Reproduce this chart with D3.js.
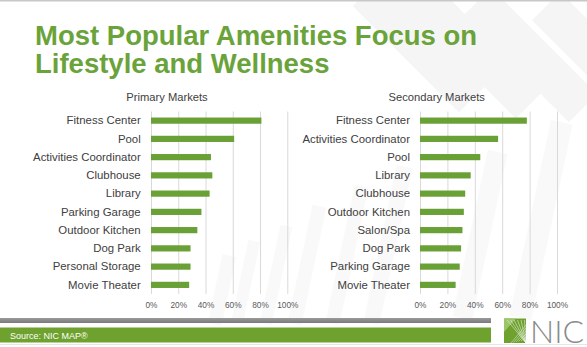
<!DOCTYPE html>
<html><head><meta charset="utf-8">
<script src="https://cdn.jsdelivr.net/npm/d3@7"></script>
<style>
html,body{margin:0;padding:0;background:#fff;}
svg{display:block;font-family:"Liberation Sans",Arial,sans-serif;}
</style></head>
<body><svg id="c" width="587" height="347"></svg>
<script>
const titleLines = ["Most Popular Amenities Focus on", "Lifestyle and Wellness"];
const primaryTitle = "Primary Markets";
const primaryCategories = ["Fitness Center","Pool","Activities Coordinator","Clubhouse","Library","Parking Garage","Outdoor Kitchen","Dog Park","Personal Storage","Movie Theater"];
const primaryValues = [81, 61, 44, 45, 43, 37, 34, 29, 29, 28];
const secondaryTitle = "Secondary Markets";
const secondaryCategories = ["Fitness Center","Activities Coordinator","Pool","Library","Clubhouse","Outdoor Kitchen","Salon/Spa","Dog Park","Parking Garage","Movie Theater"];
const secondaryValues = [78, 57, 44, 37, 33, 32, 31, 30, 29, 26];
const tickValues = [0, 20, 40, 60, 80, 100];
const sourceText = "Source: NIC MAP®";
const logoText = "NIC";

const svg = d3.select("#c");
const W = 587, H = 347;
const barColor = "#6aa136", titleColor = "#6aa33a", textColor = "#404040";

// background watermark stripes
const bg = svg.append("g").attr("fill", "#f5f5f5");
[[400,-30,40,150],[450,-40,38,170],[510,-20,40,150],[565,-10,40,110]].forEach(r=>{
  bg.append("rect").attr("x",r[0]).attr("y",r[1]).attr("width",r[2]).attr("height",r[3])
    .attr("transform",`rotate(-45 ${r[0]+r[2]/2} ${r[1]+r[3]/2})`);
});
[[215,255,14,70],[240,240,12,80],[270,225,12,100],[300,205,14,120],[340,185,14,140],[380,165,16,160],[470,150,20,170],[530,120,22,200]].forEach(r=>{
  bg.append("rect").attr("x",r[0]).attr("y",r[1]).attr("width",r[2]).attr("height",r[3])
    .attr("transform",`rotate(12 ${r[0]+r[2]/2} ${r[1]+r[3]/2})`).attr("opacity",0.6);
});

// top line
svg.append("rect").attr("x",0).attr("y",0).attr("width",W).attr("height",1.5).attr("fill","#c8c8c8");

// title
titleLines.forEach((l,i)=>{
  svg.append("text").attr("fill", titleColor).attr("font-weight","bold").attr("font-size",27.5)
    .attr("x",35).attr("y",45 + i*27.5).text(l);
});

function panel(cats, vals, title, x0, x1, labelGap, titleX) {
  const g = svg.append("g");
  const x = d3.scaleLinear().domain([0,100]).range([x0, x1]);
  const y = d3.scaleBand().domain(cats).range([111.5, 294]).paddingInner(0.66).paddingOuter(0.33);
  g.append("g").attr("transform",`translate(0,111.5)`)
    .call(d3.axisBottom(x).tickValues(tickValues).tickSize(294-111.5).tickFormat(""))
    .call(s=>s.select(".domain").remove())
    .call(s=>s.selectAll(".tick line").attr("stroke","#d9d9d9"));
  g.append("g").attr("transform",`translate(0,299)`)
    .call(d3.axisBottom(x).tickValues(tickValues).tickSize(0).tickFormat(d=>d+"%"))
    .call(s=>s.select(".domain").remove())
    .call(s=>s.selectAll(".tick text").attr("fill","#595959").attr("font-size",8.3)
      .attr("font-family","'Liberation Sans',Arial,sans-serif"));
  g.selectAll("rect.bar").data(cats).join("rect").attr("class","bar")
    .attr("x", x(0)).attr("y", d=>y(d)).attr("height", y.bandwidth())
    .attr("width", (d,i)=>x(vals[i])-x(0)).attr("fill", barColor);
  g.append("g").attr("transform",`translate(${x0-labelGap},0)`)
    .call(d3.axisLeft(y).tickSize(0).tickPadding(0))
    .call(s=>s.select(".domain").remove())
    .call(s=>s.selectAll(".tick text").attr("fill",textColor).attr("font-size",11.4)
      .attr("font-family","'Liberation Sans',Arial,sans-serif"));
  g.append("text").attr("x",titleX).attr("y",100.5).attr("text-anchor","middle")
    .attr("fill",textColor).attr("font-size",11.2).text(title);
}
panel(primaryCategories, primaryValues, primaryTitle, 151, 287.3, 10.3, 167);
panel(secondaryCategories, secondaryValues, secondaryTitle, 420, 557, 10, 436.7);

// footer
const grad = svg.append("defs").append("linearGradient").attr("id","gg").attr("x1",0).attr("x2",0).attr("y1",0).attr("y2",1);
grad.append("stop").attr("offset","0%").attr("stop-color","#9a9a9a");
grad.append("stop").attr("offset","100%").attr("stop-color","#7a7a7a");
svg.append("rect").attr("x",0).attr("y",318).attr("width",491).attr("height",5).attr("fill","url(#gg)");
svg.append("rect").attr("x",0).attr("y",327.5).attr("width",491).attr("height",15).attr("fill","#6ea12e");
svg.append("text").attr("x",10).attr("y",338.5).attr("fill","#fff").attr("font-size",9).text(sourceText);
svg.append("rect").attr("x",0).attr("y",344).attr("width",W).attr("height",1).attr("fill","#e6e6e6");

// logo
const lg = svg.append("g");
lg.append("rect").attr("x",504).attr("y",318.5).attr("width",22).attr("height",24.5).attr("fill","#6ea12e");
lg.append("path").attr("d","M504,318.5 L516,318.5 L504,332 Z").attr("fill","#9cc46a");
for (let i=0;i<6;i++){
  lg.append("line").attr("x1",526).attr("y1",343).attr("x2",507+i*3.5).attr("y2",320)
    .attr("stroke","#fff").attr("stroke-width",0.6).attr("opacity",0.8);
  lg.append("line").attr("x1",511+i*2.5).attr("y1",343-i*0.5).attr("x2",526).attr("y2",325+i*3)
    .attr("stroke","#fff").attr("stroke-width",0.6).attr("opacity",0.7);
}
const nic = svg.append("text").attr("x",530).attr("y",342.5).attr("fill","#8a8a8a").attr("font-size",32)
  .attr("font-family","Lato, 'Open Sans', sans-serif").attr("font-weight",300).text(logoText);
const nw = nic.node().getComputedTextLength();
if (nw > 55) nic.attr("font-size", 32*55/nw);
</script></body></html>
